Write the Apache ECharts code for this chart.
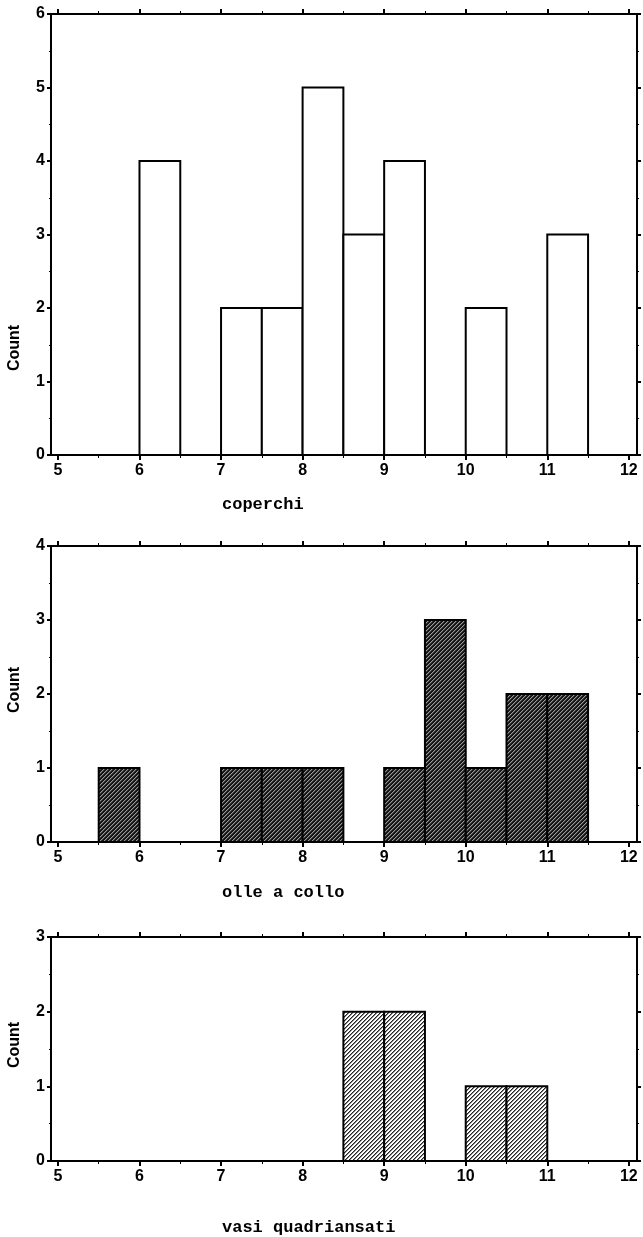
<!DOCTYPE html>
<html>
<head>
<meta charset="utf-8">
<script src="https://cdn.jsdelivr.net/npm/echarts@6/dist/echarts.min.js"></script>
<style>
  html, body { margin: 0; padding: 0; background: #fff; }
  #chart { width: 643px; height: 1237px; }
</style>
</head>
<body>
<div id="chart"></div>
<script>
// histogram bins (width 0.5)
var binStart = [5, 5.5, 6, 6.5, 7, 7.5, 8, 8.5, 9, 9.5, 10, 10.5, 11, 11.5];
var binWidth = 0.5;
var coperchi = [0, 0, 4, 0, 2, 2, 5, 3, 4, 0, 2, 0, 3, 0];
var olleACollo = [0, 1, 0, 0, 1, 1, 1, 0, 1, 3, 1, 2, 2, 0];
var vasiQuadriansati = [0, 0, 0, 0, 0, 0, 0, 2, 2, 0, 1, 1, 0, 0];
var panelNames = ["coperchi", "olle a collo", "vasi quadriansati"];
var yMaxes = [6, 4, 3];
var xTicks = [5, 6, 7, 8, 9, 10, 11, 12];
var xHalfTicks = [5.5, 6.5, 7.5, 8.5, 9.5, 10.5, 11.5];
var xMin = 4.915, xMax = 12.1;

// hatch patterns
function makeHatch(colors) {
  var c = document.createElement("canvas");
  c.width = 4;
  c.height = 4;
  var ctx = c.getContext("2d");
  for (var x = 0; x < 4; x++) {
    for (var y = 0; y < 4; y++) {
      ctx.fillStyle = colors[(x + y) % 4];
      ctx.fillRect(x, y, 1, 1);
    }
  }
  return { image: c, repeat: "repeat" };
}
var fills = [
  "#ffffff",
  makeHatch(["#9a9a9a", "#404040", "#141414", "#141414"]),
  makeHatch(["#222222", "#888888", "#ffffff", "#ffffff"]),
];

var allCounts = [coperchi, olleACollo, vasiQuadriansati];
var gridTops = [14, 546, 937];
var gridHeights = [441, 296, 224];
var titleTops = [496, 884, 1219];
var countY = [348, 690, 1045];

var labelFont = {
  color: "#000",
  fontFamily: "Liberation Sans",
  fontWeight: "bold",
  fontSize: 16,
};
var axisLineStyle = { show: true, lineStyle: { color: "#000", width: 2 } };

var grids = [], xAxes = [], yAxes = [], series = [], titles = [], graphics = [];

allCounts.forEach(function (counts, i) {
  grids.push({ left: 51, right: 6, top: gridTops[i], height: gridHeights[i] });

  ["bottom", "top"].forEach(function (pos) {
    xAxes.push({
      type: "value",
      gridIndex: i,
      position: pos,
      min: xMin,
      max: xMax,
      axisLine: axisLineStyle,
      splitLine: { show: false },
      axisTick: {
        show: true,
        customValues: xTicks,
        length: 5,
        lineStyle: { color: "#000", width: 2 },
      },
      axisLabel: Object.assign(
        { show: pos === "bottom", customValues: xTicks, margin: 8 },
        labelFont
      ),
    });
    xAxes.push({
      type: "value",
      gridIndex: i,
      position: pos,
      min: xMin,
      max: xMax,
      axisLine: { show: false },
      splitLine: { show: false },
      axisTick: {
        show: true,
        customValues: xHalfTicks,
        length: 3,
        lineStyle: { color: "#000", width: 1 },
      },
      axisLabel: { show: false },
    });
  });

  ["left", "right"].forEach(function (pos) {
    yAxes.push({
      type: "value",
      gridIndex: i,
      position: pos,
      min: 0,
      max: yMaxes[i],
      interval: 1,
      axisLine: axisLineStyle,
      splitLine: { show: false },
      axisTick: { show: true, length: 4, lineStyle: { color: "#000", width: 2 } },
      minorTick: { show: true, splitNumber: 2, length: 2, lineStyle: { color: "#000" } },
      axisLabel: Object.assign({ show: pos === "left", margin: 6 }, labelFont),
    });
  });

  var data = binStart.map(function (s, k) {
    return [s, s + binWidth, counts[k]];
  });

  series.push({
    type: "custom",
    xAxisIndex: i * 4,
    yAxisIndex: i * 2,
    data: data,
    renderItem: function (params, api) {
      if (api.value(2) === 0) return;
      var p0 = api.coord([api.value(0), api.value(2)]);
      var p1 = api.coord([api.value(1), 0]);
      return {
        type: "rect",
        shape: { x: p0[0], y: p0[1], width: p1[0] - p0[0], height: p1[1] - p0[1] },
        style: { fill: fills[i], stroke: "#000", lineWidth: 2 },
      };
    },
    z: 1,
  });

  titles.push({
    text: panelNames[i],
    left: 222,
    top: titleTops[i],
    padding: 0,
    textStyle: {
      fontFamily: "Liberation Mono",
      fontWeight: "bold",
      fontSize: 17,
      color: "#000",
    },
  });

  graphics.push({
    type: "text",
    x: 15,
    y: countY[i],
    rotation: Math.PI / 2,
    style: {
      text: "Count",
      font: "bold 16px Liberation Sans",
      fill: "#000",
      textAlign: "center",
      textVerticalAlign: "middle",
    },
  });
});

var myChart = echarts.init(document.getElementById("chart"), null, { renderer: "canvas" });
var option = {
  animation: false,
  backgroundColor: "#fff",
  title: titles,
  grid: grids,
  xAxis: xAxes,
  yAxis: yAxes,
  series: series,
  graphic: graphics,
};
myChart.setOption(option);
</script>
</body>
</html>
